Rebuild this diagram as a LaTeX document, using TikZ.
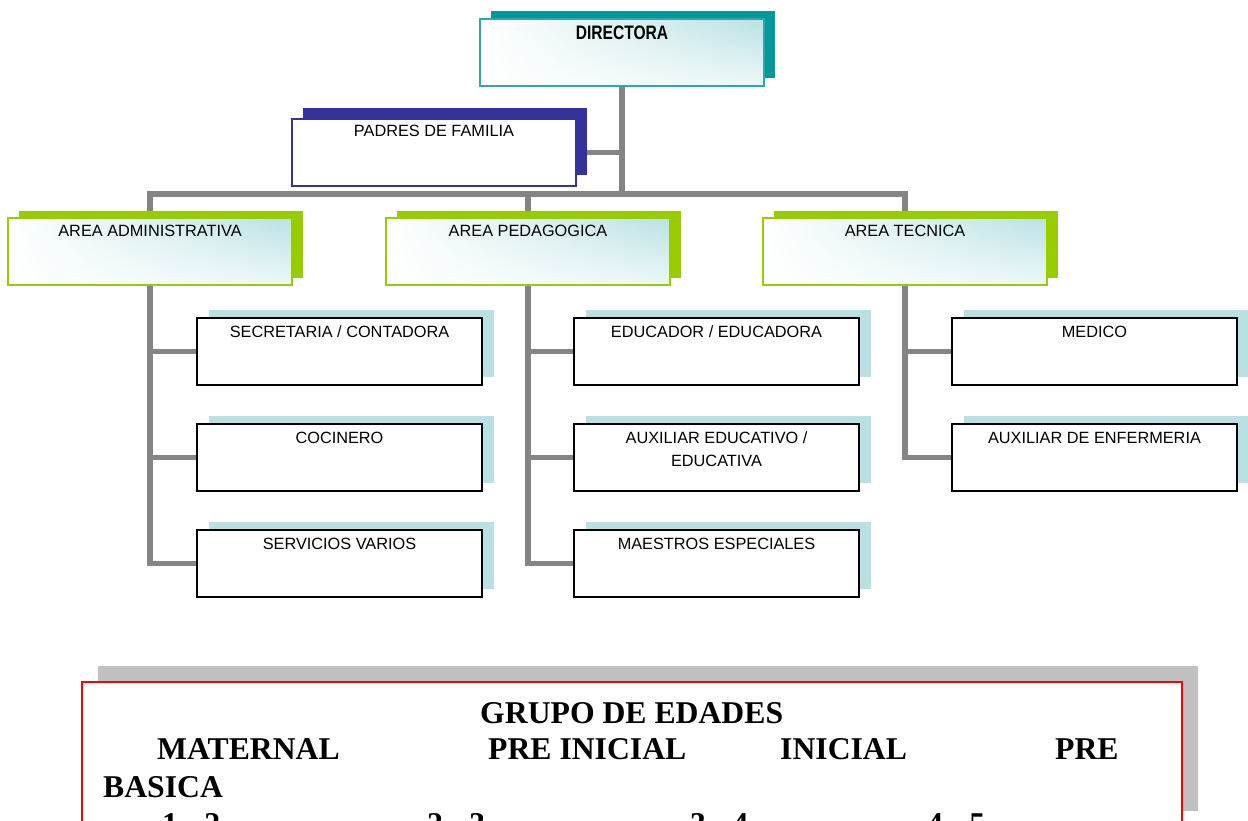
\documentclass[tikz,border=0pt]{standalone}
\usepackage{fontspec}
\setmainfont{Liberation Serif}
\newfontfamily\arial{Liberation Sans}
\usetikzlibrary{shadows,backgrounds,shadings}
\definecolor{tealc}{HTML}{009999}
\definecolor{tealb}{HTML}{2FA8A8}
\definecolor{greenc}{HTML}{99CC00}
\definecolor{bluec}{HTML}{333399}
\definecolor{lblue}{HTML}{B9E1E3}
\definecolor{linec}{HTML}{858585}
\definecolor{grayc}{HTML}{C0C0C0}
\definecolor{redc}{HTML}{FF0000}
\begin{document}
\begin{tikzpicture}[x=1pt,y=-1pt,
  box/.style={rectangle, inner sep=0pt, outer sep=0pt, minimum width=284pt, minimum height=67pt, anchor=north west},
  gradfill/.style={fill=white, path picture={\shade[upper left=white, lower left=white, upper right=lblue, lower right=lblue!25] (path picture bounding box.south west) rectangle (path picture bounding box.north east);}},
  dirbox/.style={box, gradfill, draw=tealb, line width=1.5pt, general shadow={fill=tealc, shadow xshift=11pt, shadow yshift=8pt}},
  padbox/.style={box, fill=white, draw=bluec, line width=1.2pt, general shadow={fill=bluec, shadow xshift=11pt, shadow yshift=11pt}},
  areabox/.style={box, gradfill, draw=greenc, line width=1.5pt, general shadow={fill=greenc, shadow xshift=11pt, shadow yshift=7pt}},
  subbox/.style={box, minimum width=285pt, fill=white, draw=black, line width=1.8pt, general shadow={fill=lblue, shadow xshift=12pt, shadow yshift=8pt}},
  lbl/.style={anchor=base, inner sep=0pt, font=\arial\fontsize{16.3}{19}\selectfont},
  conn/.style={draw=linec, line width=5.5pt},
  edbox/.style={rectangle, inner sep=0pt, outer sep=0pt, minimum width=1100pt, minimum height=145pt, anchor=north west, fill=white, draw=redc, line width=1.5pt, general shadow={fill=grayc, shadow xshift=16pt, shadow yshift=16pt}},
  big/.style={anchor=base west, inner sep=0pt, font=\fontsize{31.7}{38}\selectfont\bfseries}
]
\useasboundingbox (0,0) rectangle (1248,821);
\clip (0,0) rectangle (1248,821);

% top boxes
\node[dirbox] (dir) at (480,19) {};
\node[lbl, font=\arial\bfseries\fontsize{19.5}{22}\selectfont] at ([yshift=-21pt]dir.north) {\scalebox{0.8}[1]{DIRECTORA}};

\node[padbox] (pad) at (292,119) {};
\node[lbl] at ([yshift=-18pt]pad.north) {PADRES DE FAMILIA};

% areas
\node[areabox] (adm) at (8,218) {};
\node[lbl] at ([yshift=-19pt]adm.north) {AREA ADMINISTRATIVA};
\node[areabox] (ped) at (386,218) {};
\node[lbl] at ([yshift=-19pt]ped.north) {AREA PEDAGOGICA};
\node[areabox] (tec) at (763,218) {};
\node[lbl] at ([yshift=-19pt]tec.north) {AREA TECNICA};

% sub boxes
\node[subbox] (sec) at (197,318) {};
\node[lbl] at ([yshift=-19pt]sec.north) {SECRETARIA / CONTADORA};
\node[subbox] (coc) at (197,424) {};
\node[lbl] at ([yshift=-19pt]coc.north) {COCINERO};
\node[subbox] (ser) at (197,530) {};
\node[lbl] at ([yshift=-19pt]ser.north) {SERVICIOS VARIOS};

\node[subbox] (edu) at (574,318) {};
\node[lbl] at ([yshift=-19pt]edu.north) {EDUCADOR / EDUCADORA};
\node[subbox] (aux) at (574,424) {};
\node[lbl] at ([yshift=-19pt]aux.north) {AUXILIAR EDUCATIVO /};
\node[lbl] at ([yshift=-42pt]aux.north) {EDUCATIVA};
\node[subbox] (mae) at (574,530) {};
\node[lbl] at ([yshift=-19pt]mae.north) {MAESTROS ESPECIALES};

\node[subbox] (med) at (952,318) {};
\node[lbl] at ([yshift=-19pt]med.north) {MEDICO};
\node[subbox] (enf) at (952,424) {};
\node[lbl] at ([yshift=-19pt]enf.north) {AUXILIAR DE ENFERMERIA};

% connectors
\begin{scope}[on background layer]
  \coordinate (bar) at (622,194);
  \draw[conn] (dir.center) -- (bar);
  \draw[conn] (pad.center) -- (pad -| bar);
  \draw[conn] (adm.center) |- (bar) -| (tec.center);
  \draw[conn] (bar) -| (ped.center);
  \draw[conn] (adm.center) |- (sec.center);
  \draw[conn] (adm.center) |- (coc.center);
  \draw[conn] (adm.center) |- (ser.center);
  \draw[conn] (ped.center) |- (edu.center);
  \draw[conn] (ped.center) |- (aux.center);
  \draw[conn] (ped.center) |- (mae.center);
  \draw[conn] (tec.center) |- (med.center);
  \draw[conn] (tec.center) |- (enf.center);
\end{scope}

% age groups box
\node[edbox] (ed) at (82,682) {};
\node[big] at (480,723) {GRUPO DE EDADES};
\node[big] at (157,759) {MATERNAL};
\node[big] at (488,759) {PRE INICIAL};
\node[big] at (780,759) {INICIAL};
\node[big] at (1055,759) {PRE};
\node[big] at (103,797) {BASICA};
\node[big] at (162,834) {1 - 2};
\node[big] at (427,834) {2 - 3};
\node[big] at (690,834) {3 - 4};
\node[big] at (927,834) {4 - 5};
\end{tikzpicture}
\end{document}
